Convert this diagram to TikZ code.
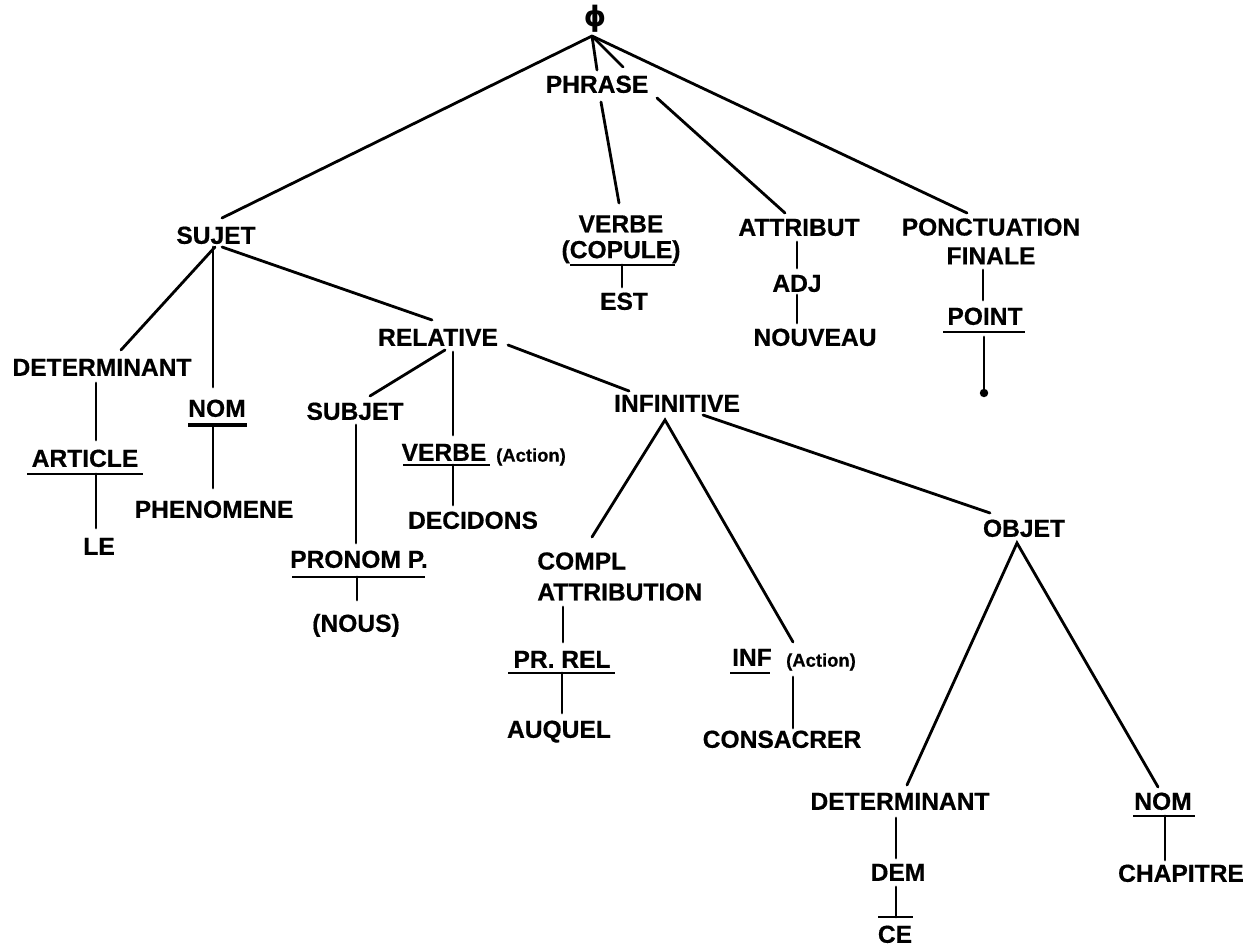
\documentclass[tikz,border=0pt]{standalone}
\usepackage{fontspec}
\setmainfont{Liberation Sans}[BoldFeatures={FakeBold=0.6}]
\newfontfamily\djv{DejaVu Sans}
\usetikzlibrary{calc}
\newcommand{\lblfont}{\fontsize{14}{16}\selectfont\bfseries}
\newcommand{\smfont}{\fontsize{10.5}{12}\selectfont\bfseries}
\begin{document}
\begin{tikzpicture}[x=0.02cm,y=-0.02cm,
  lbl/.style={inner sep=0pt,font=\lblfont,text height=10pt,text depth=0pt},
  mlbl/.style={inner sep=0pt},
  sm/.style={inner sep=0pt,font=\smfont,text height=7.6pt,text depth=0pt},
  edge/.style={line width=1.6pt,line cap=round},
  uline/.style={line width=1.5pt},
  thickuline/.style={line width=2.8pt}]
\useasboundingbox (0,0) rectangle (1258,946);

% ---------- nodes ----------
\node[inner sep=0pt,font={\djv\bfseries\fontsize{16}{16}\selectfont}] (phi) at (595,19) {ϕ};
\coordinate (apex) at (592,36);
\node[lbl] (phrase) at (597,84) {PHRASE};
\node[lbl] (sujet) at (216,235) {SUJET};
\node[mlbl,align=center,anchor=north,font={\fontsize{14}{14.7}\selectfont\bfseries}] (copule) at (621,215) {VERBE\\(COPULE)};
\node[lbl] (est) at (624,301) {EST};
\node[lbl] (attribut) at (799,227) {ATTRIBUT};
\node[lbl] (adj) at (797,283) {ADJ};
\node[lbl] (nouveau) at (815,337) {NOUVEAU};
\node[mlbl,align=center,anchor=north,font={\fontsize{14}{16.4}\selectfont\bfseries}] (ponct) at (991,218) {PONCTUATION\\FINALE};
\node[lbl] (point) at (985,316) {POINT};
\coordinate (dotc) at (984,393);

\node[lbl] (det1) at (102,367) {DETERMINANT};
\node[lbl] (nom1) at (217,408) {NOM};
\node[lbl] (article) at (85,458) {ARTICLE};
\node[lbl] (le) at (99,546) {LE};
\node[lbl] (phenom) at (214,509) {PHENOMENE};

\node[lbl] (relative) at (438,337) {RELATIVE};
\node[lbl] (subjet) at (355,411) {SUBJET};
\node[lbl] (verbe2) at (444,452) {VERBE};
\node[sm] (action1) at (531,455) {(Action)};
\node[lbl] (decidons) at (473,520) {DECIDONS};
\node[lbl] (pronom) at (359,559) {PRONOM P.};
\node[lbl] (nous) at (356,623) {(NOUS)};

\node[lbl] (infinitive) at (677,403) {INFINITIVE};
\node[mlbl,align=left,anchor=north west,font={\fontsize{14}{17.6}\selectfont\bfseries}] (compl) at (537,552) {COMPL\\ATTRIBUTION};
\node[lbl] (prrel) at (562,659) {PR. REL};
\node[lbl] (auquel) at (559,729) {AUQUEL};
\node[lbl] (inf) at (752,657) {INF};
\node[sm] (action2) at (821,660) {(Action)};
\node[lbl] (consacrer) at (782,739) {CONSACRER};

\node[lbl] (objet) at (1024,528) {OBJET};
\node[lbl] (det2) at (900,801) {DETERMINANT};
\node[lbl] (nom2) at (1163,801) {NOM};
\node[lbl] (dem) at (898,872) {DEM};
\node[lbl] (ce) at (895,934) {CE};
\node[lbl] (chapitre) at (1181,873) {CHAPITRE};

% ---------- connectors ----------
\draw[edge] (apex) -- ($(sujet)+(6,-17)$);
\draw[edge] (apex) -- ($(phrase)+(0,-14)$);
\draw[edge] (apex) -- ($(phrase)+(26,-17)$);
\draw[edge] (apex) -- ($(ponct.north)+(-24,-5)$);

\draw[edge] ($(phrase)+(4,18)$) -- ($(copule.north)+(-2,-12)$);
\draw[edge] ($(phrase)+(60,14)$) -- ($(attribut)+(-14,-14)$);
\draw[uline] ($(copule.north)+(-51,50)$) -- ($(copule.north)+(54,50)$);
\draw[edge] ($(copule.north)+(1,50)$) -- ($(est)+(-2,-14)$);
\draw[edge] ($(attribut)+(-2,15)$) -- ($(adj)+(0,-15)$);
\draw[edge] ($(adj)+(0,12)$) -- ($(nouveau)+(-18,-14)$);
\draw[edge] ($(ponct.north)+(-8,52)$) -- ($(point)+(-2,-16)$);
\draw[uline] ($(point)+(-42,16)$) -- ($(point)+(40,16)$);
\draw[edge] ($(point)+(-1,21)$) -- (dotc);
\fill (dotc) circle[radius=2.4pt];

\draw[edge] ($(sujet)+(-1,12)$) -- ($(det1)+(19,-17)$);
\draw[edge] ($(sujet)+(-3,12)$) -- ($(nom1)+(-4,-21)$);
\draw[edge] ($(sujet)+(6,12)$) -- ($(relative)+(-6,-17)$);
\draw[edge] ($(det1)+(-6,16)$) -- ($(article)+(11,-18)$);
\draw[uline] ($(article)+(-58,16)$) -- ($(article)+(58,16)$);
\draw[edge] ($(article)+(11,16)$) -- ($(le)+(-3,-18)$);
\draw[thickuline] ($(nom1)+(-29,17)$) -- ($(nom1)+(30,17)$);
\draw[edge] ($(nom1)+(-4,17)$) -- ($(phenom)+(-1,-21)$);

\draw[edge] ($(relative)+(7,13)$) -- ($(subjet)+(15,-15)$);
\draw[edge] ($(relative)+(15,15)$) -- ($(verbe2)+(9,-17)$);
\draw[edge] ($(relative)+(70,8)$) -- ($(infinitive)+(-48,-12)$);
\draw[uline] ($(verbe2)+(-41,13)$) -- ($(verbe2)+(46,13)$);
\draw[edge] ($(verbe2)+(9,13)$) -- ($(decidons)+(-20,-15)$);
\draw[edge] ($(subjet)+(1,14)$) -- ($(pronom)+(-3,-16)$);
\draw[uline] ($(pronom)+(-67,18)$) -- ($(pronom)+(66,18)$);
\draw[edge] ($(pronom)+(-2,18)$) -- ($(nous)+(1,-23)$);

\coordinate (infapex) at ($(infinitive)+(-12,17)$);
\draw[edge] ($(compl.north west)+(55,-15)$) -- (infapex) -- ($(inf)+(41,-15)$);
\draw[edge] ($(infinitive)+(26,12)$) -- ($(objet)+(-34,-15)$);
\draw[edge] ($(compl.north west)+(26,55)$) -- ($(prrel)+(1,-17)$);
\draw[uline] ($(prrel)+(-54,14)$) -- ($(prrel)+(53,14)$);
\draw[edge] ($(prrel)+(0,14)$) -- ($(auquel)+(3,-16)$);
\draw[uline] ($(inf)+(-22,16)$) -- ($(inf)+(18,16)$);
\draw[edge] ($(inf)+(41,20)$) -- ($(consacrer)+(11,-11)$);

\coordinate (objapex) at ($(objet)+(-7,15)$);
\draw[edge] ($(det2)+(7,-16)$) -- (objapex) -- ($(nom2)+(-5,-14)$);
\draw[edge] ($(det2)+(-4,17)$) -- ($(dem)+(-2,-14)$);
\draw[edge] ($(dem)+(-2,15)$) -- ($(ce)+(1,-17)$);
\draw[uline] ($(ce)+(-17,-17)$) -- ($(ce)+(18,-17)$);
\draw[uline] ($(nom2)+(-30,15)$) -- ($(nom2)+(32,15)$);
\draw[edge] ($(nom2)+(2,15)$) -- ($(chapitre)+(-16,-13)$);
\end{tikzpicture}
\end{document}
